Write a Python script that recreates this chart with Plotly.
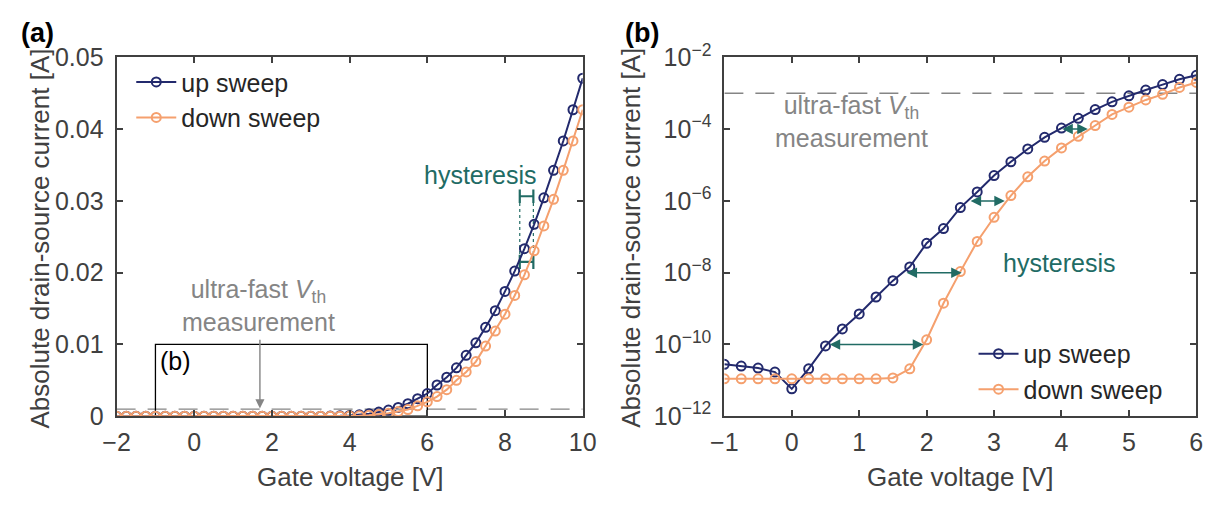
import plotly.graph_objects as go

# ---------------- data ----------------
gate_voltage = [-2.0, -1.75, -1.5, -1.25, -1.0, -0.75, -0.5, -0.25, 0.0, 0.25, 0.5, 0.75,
                1.0, 1.25, 1.5, 1.75, 2.0, 2.25, 2.5, 2.75, 3.0, 3.25, 3.5, 3.75,
                4.0, 4.25, 4.5, 4.75, 5.0, 5.25, 5.5, 5.75, 6.0, 6.25, 6.5, 6.75,
                7.0, 7.25, 7.5, 7.75, 8.0, 8.25, 8.5, 8.75, 9.0, 9.25, 9.5, 9.75, 10.0]

up_sweep = [3.6e-11, 3.4e-11, 3.2e-11, 3.0e-11, 2.8e-11, 2.5e-11, 2.2e-11, 1.7e-11, 5.8e-12,
            2.1e-11, 9.1e-11, 2.7e-10, 7.1e-10, 2.1e-9, 6.0e-9, 1.45e-8, 6.6e-8, 1.7e-7,
            6.5e-7, 1.78e-6, 5.1e-6, 1.23e-5, 2.8e-5, 5.9e-5, 1.07e-4, 2.0e-4, 3.5e-4,
            5.75e-4, 8.5e-4, 1.23e-3, 1.74e-3, 2.45e-3, 3.16e-3, 4.35e-3, 5.43e-3, 6.74e-3,
            8.48e-3, 1.022e-2, 1.239e-2, 1.470e-2, 1.739e-2, 2.022e-2, 2.335e-2, 2.674e-2,
            3.043e-2, 3.426e-2, 3.835e-2, 4.270e-2, 4.709e-2]

down_sweep = [1.1e-11, 1.1e-11, 1.1e-11, 1.1e-11, 1.1e-11, 1.1e-11, 1.1e-11, 1.1e-11, 1.1e-11,
              1.1e-11, 1.1e-11, 1.1e-11, 1.1e-11, 1.1e-11, 1.17e-11, 2.1e-11, 1.35e-10, 1.41e-9,
              1.07e-8, 7.4e-8, 3.5e-7, 1.41e-6, 4.7e-6, 1.29e-5, 3.0e-5, 6.3e-5, 1.26e-4,
              2.57e-4, 4.1e-4, 6.5e-4, 9.3e-4, 1.45e-3, 2.0e-3, 2.74e-3, 3.70e-3, 5.00e-3,
              6.17e-3, 7.61e-3, 9.78e-3, 1.187e-2, 1.422e-2, 1.683e-2, 1.970e-2, 2.304e-2,
              2.652e-2, 3.022e-2, 3.426e-2, 3.835e-2, 4.270e-2]

x_ticks_a = [-2, 0, 2, 4, 6, 8, 10]
x_ticklabels_a = ["\u22122", "0", "2", "4", "6", "8", "10"]
y_ticks_a = [0, 0.01, 0.02, 0.03, 0.04, 0.05]
y_ticklabels_a = ["0", "0.01", "0.02", "0.03", "0.04", "0.05"]
x_ticks_b = [-1, 0, 1, 2, 3, 4, 5, 6]
x_ticklabels_b = ["\u22121", "0", "1", "2", "3", "4", "5", "6"]
y_ticks_b = [1e-12, 1e-10, 1e-8, 1e-6, 1e-4, 1e-2]
y_ticklabels_b = ["10<sup>\u221212</sup>", "10<sup>\u221210</sup>", "10<sup>\u22128</sup>",
                  "10<sup>\u22126</sup>", "10<sup>\u22124</sup>", "10<sup>\u22122</sup>"]

vth_level = 1e-3                 # ultra-fast Vth current level
zoom_box_v = [-1, 6]             # region shown in (b)
zoom_box_i = [0, 0.01]
range_b_v = [-1, 6]
# hysteresis markers in (a): voltage pair and current spans
hyst_a_v = [8.38, 8.73]
hyst_a_top = [0.0297, 0.0316]
hyst_a_bot = [0.0205, 0.0225]
# hysteresis arrows in (b): (start V, end V, log10 current)
hyst_b = [(0.54, 1.95, -10), (1.68, 2.52, -8), (2.63, 3.16, -6), (3.99, 4.39, -4)]

# ---------------- style ----------------
NAVY = "#232a6d"
ORANGE = "#f5a06e"
TEAL = "#216b64"
GREY = "#858585"
AX = "#404040"
FONT = "Liberation Sans"
W, H = 1224, 508
TICK_SIZE = 25
TITLE_SIZE = 26

fig = go.Figure()

# panel (a) helper lines
fig.add_trace(go.Scatter(x=[-2, 10], y=[vth_level, vth_level], mode="lines",
                         line=dict(color=GREY, width=1.3, dash="19px,12px"),
                         showlegend=False, xaxis="x", yaxis="y", hoverinfo="skip"))
fig.add_trace(go.Scatter(x=[zoom_box_v[0], zoom_box_v[1], zoom_box_v[1], zoom_box_v[0], zoom_box_v[0]],
                         y=[zoom_box_i[0], zoom_box_i[0], zoom_box_i[1], zoom_box_i[1], zoom_box_i[0]],
                         mode="lines", line=dict(color="black", width=1.3),
                         showlegend=False, xaxis="x", yaxis="y", hoverinfo="skip"))
# H markers
hx, hy = [], []
for span in (hyst_a_top, hyst_a_bot):
    mid = (span[0] + span[1]) / 2
    hx += [hyst_a_v[0], hyst_a_v[0], None, hyst_a_v[1], hyst_a_v[1], None, hyst_a_v[0], hyst_a_v[1], None]
    hy += [span[0], span[1], None, span[0], span[1], None, mid, mid, None]
fig.add_trace(go.Scatter(x=hx, y=hy, mode="lines", line=dict(color=TEAL, width=2.2),
                         showlegend=False, xaxis="x", yaxis="y", hoverinfo="skip"))
fig.add_trace(go.Scatter(x=[hyst_a_v[0], hyst_a_v[0], None, hyst_a_v[1], hyst_a_v[1]],
                         y=[hyst_a_top[0], hyst_a_bot[1], None, hyst_a_top[0], hyst_a_bot[1]],
                         mode="lines", line=dict(color=TEAL, width=1.2, dash="dot"),
                         showlegend=False, xaxis="x", yaxis="y", hoverinfo="skip"))

# panel (b) helper line
fig.add_trace(go.Scatter(x=range_b_v, y=[vth_level, vth_level], mode="lines",
                         line=dict(color=GREY, width=1.3, dash="19px,12px"),
                         showlegend=False, xaxis="x2", yaxis="y2", hoverinfo="skip"))

mk = dict(symbol="circle-open", size=9, line=dict(width=2))
# panel (a) data
fig.add_trace(go.Scatter(x=gate_voltage, y=up_sweep, name="up sweep", mode="lines+markers",
                         line=dict(color=NAVY, width=2), marker=dict(color=NAVY, **mk),
                         xaxis="x", yaxis="y", legend="legend", legendgroup="u1"))
fig.add_trace(go.Scatter(x=gate_voltage, y=down_sweep, name="down sweep", mode="lines+markers",
                         line=dict(color=ORANGE, width=2), marker=dict(color=ORANGE, **mk),
                         xaxis="x", yaxis="y", legend="legend", legendgroup="d1"))
# panel (b) data
vb = [v for v in gate_voltage if range_b_v[0] <= v <= range_b_v[1]]
ub = [u for v, u in zip(gate_voltage, up_sweep) if range_b_v[0] <= v <= range_b_v[1]]
db = [d for v, d in zip(gate_voltage, down_sweep) if range_b_v[0] <= v <= range_b_v[1]]
fig.add_trace(go.Scatter(x=vb, y=ub, name="up sweep", mode="lines+markers",
                         line=dict(color=NAVY, width=2), marker=dict(color=NAVY, **mk),
                         xaxis="x2", yaxis="y2", legend="legend2", legendgroup="u2"))
fig.add_trace(go.Scatter(x=vb, y=db, name="down sweep", mode="lines+markers",
                         line=dict(color=ORANGE, width=2), marker=dict(color=ORANGE, **mk),
                         xaxis="x2", yaxis="y2", legend="legend2", legendgroup="d2"))

ydom = [1 - 425 / H, 1 - 42 / H]
axis_common = dict(showline=True, linecolor=AX, linewidth=2, mirror="ticks", ticks="inside",
                   ticklen=6, tickwidth=2, tickcolor=AX, showgrid=False, zeroline=False,
                   tickfont=dict(family=FONT, size=TICK_SIZE, color=AX))

annotations = []
def txt(x, y, text, size=25, color=AX, xref="paper", yref="paper", angle=0, bold=False,
        xanchor="center", yanchor="middle"):
    annotations.append(dict(x=x, y=y, xref=xref, yref=yref, text=text, showarrow=False,
                            textangle=angle, xanchor=xanchor, yanchor=yanchor,
                            font=dict(family=FONT, size=size, color=color,
                                      weight="bold" if bold else "normal")))

# axis titles
txt(343.5 / W, 1 - 490 / H, "Gate voltage [V]", size=TITLE_SIZE)
txt(968.5 / W, 1 - 490 / H, "Gate voltage [V]", size=TITLE_SIZE)
txt(27 / W, 1 - 235 / H, "Absolute drain-source current [A]", size=TITLE_SIZE, angle=-90)
txt(632 / W, 1 - 235 / H, "Absolute drain-source current [A]", size=TITLE_SIZE, angle=-90)
# panel labels
txt(24 / W, 1 - 16 / H, "(a)", size=27, color="black", bold=True)
txt(643 / W, 1 - 16 / H, "(b)", size=27, color="black", bold=True)

# panel (a) texts
txt(7.38, 0.0336, "hysteresis", color=TEAL, xref="x", yref="y")
txt(1.65, 0.0154, "ultra-fast <i>V</i><sub>th</sub><br>measurement", color=GREY, xref="x", yref="y")
txt(-0.94, 0.0077, "(b)", color="black", xref="x", yref="y", xanchor="left")
annotations.append(dict(x=1.69, y=0.00108, ax=1.69, ay=0.01087, xref="x", yref="y",
                        axref="x", ayref="y", text="", showarrow=True, arrowhead=2,
                        arrowsize=1.3, arrowwidth=1.4, arrowcolor=GREY, standoff=0))

# panel (b) texts
txt(0.884, -3.78, "ultra-fast <i>V</i><sub>th</sub><br>measurement", color=GREY, xref="x2", yref="y2")
txt(3.97, -7.74, "hysteresis", color=TEAL, xref="x2", yref="y2")
for v0, v1, ly in hyst_b:
    annotations.append(dict(x=v1, y=ly, ax=v0, ay=ly, xref="x2", yref="y2", axref="x2",
                            ayref="y2", text="", showarrow=True, arrowhead=2, startarrowhead=2,
                            arrowside="end+start", arrowsize=1.4, startarrowsize=1.4,
                            arrowwidth=1.5, arrowcolor=TEAL, standoff=0, startstandoff=0))

leg_common = dict(bgcolor="rgba(0,0,0,0)", borderwidth=0, font=dict(family=FONT, size=25, color="#262626"),
                  xanchor="left", yanchor="top", tracegroupgap=0, itemwidth=40)

fig.update_layout(
    width=W, height=H, autosize=False, margin=dict(l=0, r=0, t=0, b=0),
    paper_bgcolor="white", plot_bgcolor="white",
    xaxis=dict(domain=[105 / W, 582 / W], range=[-2, 10], tickvals=x_ticks_a,
               ticktext=x_ticklabels_a, anchor="y", ticklabelstandoff=3, **axis_common),
    yaxis=dict(domain=ydom, range=[0, 0.05], tickvals=y_ticks_a, ticktext=y_ticklabels_a,
               anchor="x", ticklabelstandoff=6, **axis_common),
    xaxis2=dict(domain=[727 / W, 1210 / W], range=range_b_v, tickvals=x_ticks_b,
                ticktext=x_ticklabels_b, anchor="y2", ticklabelstandoff=3, **axis_common),
    yaxis2=dict(domain=ydom, type="log", range=[-12, -2], tickvals=y_ticks_b,
                ticktext=y_ticklabels_b, anchor="x2", ticklabelstandoff=6, **axis_common),
    legend=dict(x=120 / W, y=1 - 44 / H, **leg_common),
    legend2=dict(x=982 / W, y=1 - 334 / H, **leg_common),
    annotations=annotations,
)

fig.write_html("out.html")
